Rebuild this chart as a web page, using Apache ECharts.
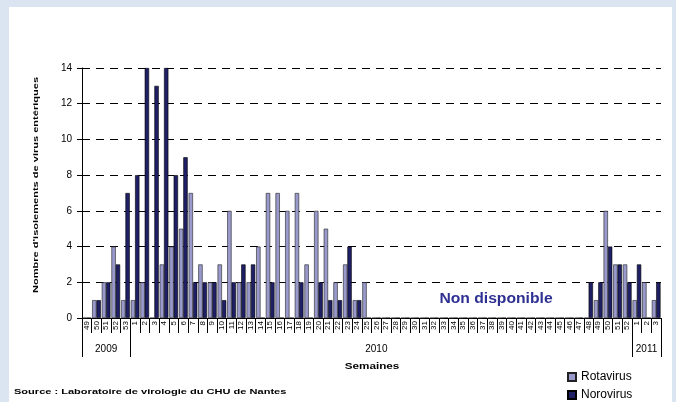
<!DOCTYPE html>
<html><head><meta charset="utf-8">
<script src="https://cdn.jsdelivr.net/npm/echarts@6/dist/echarts.min.js"></script>
<style>
html,body{margin:0;padding:0;background:#dbe5f1;}
#wrap{position:relative;width:676px;height:402px;background:#dbe5f1;overflow:hidden;}
#panel{position:absolute;left:9px;top:7px;width:663px;height:400px;background:#fff;}
#c{position:absolute;left:0;top:0;width:676px;height:402px;}
</style></head>
<body><div id="wrap"><div id="panel"></div><div id="c"></div></div>
<script>
const weeks = ['49','50','51','52','53',
 '1','2','3','4','5','6','7','8','9','10','11','12','13','14','15','16','17','18','19','20',
 '21','22','23','24','25','26','27','28','29','30','31','32','33','34','35','36','37','38','39','40',
 '41','42','43','44','45','46','47','48','49','50','51','52',
 '1','2','3'];
const years = ['2009','2010','2011'];
const yearStart = [0,5,57];
const rotavirus = [0,1,2,4,1,
 1,2,0,3,4,5,7,3,2,3,6,2,2,4,7,7,6,7,3,6,
 5,2,3,1,2,0,0,0,0,0,0,0,0,0,0,0,0,0,0,0,
 0,0,0,0,0,0,0,0,1,6,3,3,
 1,2,1];
const norovirus = [0,1,2,3,7,
 8,14,13,14,8,9,2,2,2,1,2,3,3,0,2,0,0,2,0,2,
 1,1,4,1,0,0,0,0,0,0,0,0,0,0,0,0,0,0,0,0,
 0,0,0,0,0,0,0,2,2,4,3,2,
 3,0,2];
const yTicks = {min:0, max:14, interval:2};

const yearLabels = weeks.map((w,i)=>{
  if(i===2) return years[0];
  if(i===30) return years[1];
  if(i===58) return years[2];
  return '';
});
const FF = 'Liberation Sans, Arial, sans-serif';

const chart = echarts.init(document.getElementById('c'));
chart.setOption({
  animation:false,
  textStyle:{fontFamily:FF},
  grid:{left:82,right:15,top:68,bottom:84},
  legend:[
    {orient:'vertical', left:562, top:366, itemWidth:8, itemHeight:8,
     textStyle:{fontSize:12,color:'#000'},
     data:[{name:'Rotavirus',icon:'rect'}]},
    {orient:'vertical', left:562, top:384, itemWidth:8, itemHeight:8,
     textStyle:{fontSize:12,color:'#000'},
     data:[{name:'Norovirus',icon:'rect'}]}
  ],
  xAxis:[{
    type:'category', data:weeks, position:'bottom',
    axisLine:{lineStyle:{color:'#000',width:1}},
    axisTick:{show:true,length:15,lineStyle:{color:'#000'},interval:0},
    axisLabel:{rotate:90,fontSize:8,color:'#000',interval:0,margin:3}
  },{
    type:'category', data:yearLabels, position:'bottom',
    axisLine:{show:false},
    axisTick:{show:true,length:39,lineStyle:{color:'#000'},
      interval:function(i){return yearStart.indexOf(i)>=0;}},
    axisLabel:{fontSize:10,color:'#000',interval:0,margin:26}
  }],
  yAxis:{
    type:'value', min:yTicks.min, max:yTicks.max, interval:yTicks.interval,
    axisLine:{show:true,lineStyle:{color:'#000'}},
    axisTick:{show:true,length:5,lineStyle:{color:'#000'}},
    axisLabel:{fontSize:10,color:'#000',margin:10},
    splitLine:{lineStyle:{color:'#000',type:[8,6],width:1}}
  },
  series:[
    {name:'Rotavirus',type:'bar',data:rotavirus,barGap:'0%',barCategoryGap:'10%',
     itemStyle:{color:'#9999cc',borderColor:'#222',borderWidth:0.6}},
    {name:'Norovirus',type:'bar',data:norovirus,barGap:'0%',barCategoryGap:'10%',
     itemStyle:{color:'#1f1f66',borderColor:'#000',borderWidth:0.6}}
  ],
  graphic:[
    {type:'text',x:496,y:299,scaleX:1.12,
     style:{text:'Non disponible',fontSize:14,fontWeight:'bold',fill:'#2e3192',fontFamily:FF,align:'center',verticalAlign:'middle'}},
    {type:'text',x:14,y:392,scaleX:1.38,
     style:{text:'Source : Laboratoire de virologie du CHU de Nantes',fontSize:8,fontWeight:'bold',fill:'#000',fontFamily:FF,verticalAlign:'middle'}},
    {type:'text',x:372,y:367,scaleX:1.3,
     style:{text:'Semaines',fontSize:9,fontWeight:'bold',fill:'#000',fontFamily:FF,align:'center',verticalAlign:'middle'}},
    {type:'text',x:36,y:185,rotation:Math.PI/2,scaleX:1.38,
     style:{text:"Nombre d'isolements de virus entériques",fontSize:8,fontWeight:'bold',fill:'#000',fontFamily:FF,align:'center',verticalAlign:'middle'}}
  ]
});
</script></body></html>
